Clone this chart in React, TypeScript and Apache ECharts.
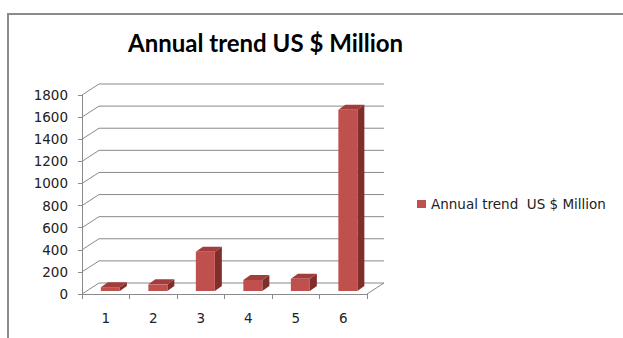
import React, { useEffect, useRef } from "react";
import * as echarts from "echarts";

const categories = ["1", "2", "3", "4", "5", "6"];
const values = [35, 60, 355, 100, 110, 1640];
const yTicks = [0, 200, 400, 600, 800, 1000, 1200, 1400, 1600, 1800];
const seriesName = "Annual trend  US $ Million";
const titleText = "Annual trend US $ Million";

const DEPTH_X = 17;
const DEPTH_Y = -11;
const GRID_COLOR = "#8a8a8a";

export default function App() {
  const ref = useRef<HTMLDivElement>(null);
  useEffect(() => {
    if (!ref.current) return;
    const chart = echarts.init(ref.current, null, { renderer: "svg" });
    const labelFont = "DejaVu Sans";
    chart.setOption({
      animation: false,
      backgroundColor: "#ffffff",
      title: {
        text: titleText,
        left: 128,
        top: 30,
        padding: 0,
        textStyle: { fontFamily: "Lato", fontWeight: "bold", fontSize: 24, color: "#000" },
      },
      legend: {
        left: 417,
        top: 197,
        padding: 0,
        data: [seriesName],
        icon: "rect",
        itemWidth: 9,
        itemHeight: 8,
        itemGap: 5,
        textStyle: { fontFamily: labelFont, fontSize: 13.5, color: "#222" },
      },
      graphic: [
        {
          type: "polyline",
          shape: { points: [[8, 338], [8, 14], [623, 14]] },
          style: { stroke: "#8c8c8c", lineWidth: 2, fill: "none" },
          silent: true,
        },
      ],
      grid: { left: 82, top: 95, width: 285, height: 199 },
      xAxis: {
        type: "category",
        data: categories,
        axisLine: { show: true, lineStyle: { color: GRID_COLOR } },
        axisTick: { show: true, length: 5, lineStyle: { color: GRID_COLOR } },
        axisLabel: { fontFamily: labelFont, fontSize: 13.5, color: "#222", margin: 17 },
        splitLine: { show: false },
      },
      yAxis: {
        type: "value",
        min: 0,
        max: 1800,
        interval: 200,
        axisLine: { show: true, lineStyle: { color: GRID_COLOR } },
        axisTick: { show: true, length: 4, lineStyle: { color: GRID_COLOR } },
        axisLabel: {
          fontFamily: labelFont,
          fontSize: 13.5,
          color: "#222",
          margin: 14,
          formatter: (v: number) => String(v),
        },
        splitLine: { show: false },
      },
      series: [
        {
          type: "custom",
          name: "walls",
          silent: true,
          z: 1,
          data: yTicks.map((t) => [0, t]),
          renderItem: (params: any, api: any) => {
            const cs = params.coordSys;
            const y = api.coord([0, api.value(1)])[1];
            const children: any[] = [
              {
                type: "line",
                shape: { x1: cs.x, y1: y, x2: cs.x + DEPTH_X, y2: y + DEPTH_Y },
                style: { stroke: GRID_COLOR, lineWidth: 1 },
              },
              {
                type: "line",
                shape: {
                  x1: cs.x + DEPTH_X,
                  y1: y + DEPTH_Y,
                  x2: cs.x + cs.width + DEPTH_X,
                  y2: y + DEPTH_Y,
                },
                style: { stroke: GRID_COLOR, lineWidth: 1 },
              },
            ];
            if (api.value(1) === 0) {
              children.push({
                type: "line",
                shape: {
                  x1: cs.x + cs.width,
                  y1: y,
                  x2: cs.x + cs.width + DEPTH_X,
                  y2: y + DEPTH_Y,
                },
                style: { stroke: GRID_COLOR, lineWidth: 1 },
              });
            }
            return { type: "group", children };
          },
        },
        {
          type: "custom",
          name: seriesName,
          z: 3,
          itemStyle: { color: "#C0504D" },
          data: values.map((v, i) => [i, v]),
          renderItem: (params: any, api: any) => {
            const i = api.value(0);
            const v = api.value(1);
            const top = api.coord([i, v]);
            const base = api.coord([i, 0]);
            const sx = 4.6;
            const sy = -3;
            const w = 19;
            const dX = 7;
            const dY = -5;
            const x0 = top[0] - w / 2 + sx;
            const yT = top[1] + sy;
            const yB = base[1] + sy;
            return {
              type: "group",
              children: [
                {
                  type: "polygon",
                  shape: { points: [[x0 + w, yT], [x0 + w, yB], [x0 + w + dX, yB + dY], [x0 + w + dX, yT + dY]] },
                  style: { fill: "#7f2e2c" },
                },
                {
                  type: "polygon",
                  shape: { points: [[x0, yT], [x0 + w, yT], [x0 + w + dX, yT + dY], [x0 + dX, yT + dY]] },
                  style: { fill: "#a13e3b" },
                },
                {
                  type: "rect",
                  shape: { x: x0, y: yT, width: w, height: yB - yT },
                  style: { fill: "#c0504d" },
                },
              ],
            };
          },
        },
      ],
    });
    return () => chart.dispose();
  }, []);
  return (
    <div
      ref={ref}
      style={{ position: "fixed", left: 0, top: 0, width: 623, height: 338, background: "#fff" }}
    />
  );
}
